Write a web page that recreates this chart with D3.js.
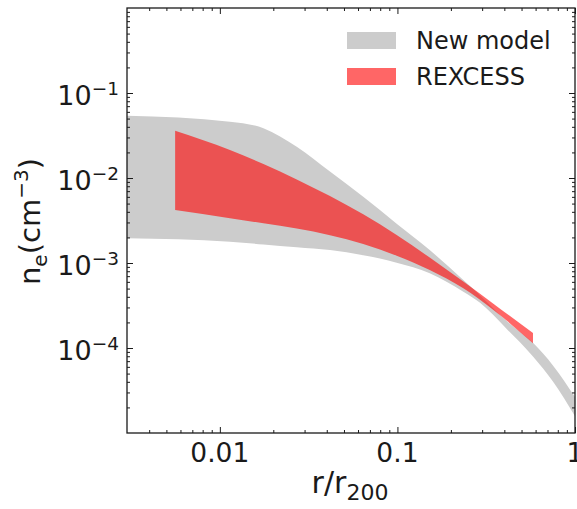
<!DOCTYPE html>
<html>
<head>
<meta charset="utf-8">
<script src="https://cdn.jsdelivr.net/npm/d3@7"></script>
<style>
  body { margin: 0; background: #fff; }
  svg { display: block; font-family: "DejaVu Sans", sans-serif; }
</style>
</head>
<body>
<svg width="577" height="509"></svg>
<script>
//new model band (grey)
const modelR = [0.003, 0.0114, 0.0176, 0.0271, 0.0417, 0.0642, 0.099, 0.152, 0.235, 0.292, 0.41, 0.58, 0.753, 1.0]
const modelUpper = [0.054, 0.046, 0.0385, 0.0233, 0.0119, 0.006, 0.0029, 0.00142, 0.00063, 0.000416, 0.00021, 0.000115, 0.000062, 0.0000265]
const modelLower = [0.00195, 0.00178, 0.00165, 0.00153, 0.00142, 0.00123, 0.00101, 0.00076, 0.00046, 0.00034, 0.00017, 0.0000796, 0.00004, 0.0000157]

//REXCESS band (red)
const rexR = [0.0056, 0.0114, 0.0176, 0.0271, 0.0417, 0.0642, 0.099, 0.152, 0.235, 0.35, 0.58]
const rexUpper = [0.036, 0.02135, 0.01462, 0.00963, 0.00614, 0.00374, 0.002135, 0.001158, 0.000604, 0.000327, 0.00015]
const rexLower = [0.0042, 0.00336, 0.00293, 0.00254, 0.00212, 0.00167, 0.00122, 0.000827, 0.000504, 0.000277, 0.000114]

//tick labels
const xTicks = [0.01, 0.1, 1]
const xTickLabels = ["0.01", "0.1", "1"]
const yTicks = [1e-1, 1e-2, 1e-3, 1e-4]
const yTickExps = ["\u22121", "\u22122", "\u22123", "\u22124"]

const legendNames = ["New model", "REXCESS"]

const svg = d3.select("svg")
  , pLeft = 127, pRight = 575, pTop = 8, pBottom = 433
  , ink = "#1a1a1a"

const x = d3.scaleLog().domain([0.003, 1]).range([pLeft, pRight])
const y = d3.scaleLog().domain([1e-5, 1]).range([pBottom, pTop])

//minor tick values for each decade
const minors = (lo, hi) => {
  let out = []
  for (let e = lo; e < hi; e++)
    for (let k = 2; k <= 9; k++) out.push(k * Math.pow(10, e))
  return out
}
const xMinor = minors(-3, 0).filter(v => v > 0.003 && v < 1)
const yMinor = minors(-5, 0)

//clip to plot area
svg.append("clipPath").attr("id", "plot")
  .append("rect").attr("x", pLeft).attr("y", pTop).attr("width", pRight - pLeft).attr("height", pBottom - pTop)

const band = (r, lo, hi) => d3.area()
  .x((d, i) => x(r[i]))
  .y0((d, i) => y(lo[i]))
  .y1((d, i) => y(hi[i]))
  .curve(d3.curveMonotoneX)(r)

const g = svg.append("g").attr("clip-path", "url(#plot)")
g.append("path").attr("d", band(modelR, modelLower, modelUpper)).attr("fill", "#cccccc")
g.append("path").attr("d", band(rexR, rexLower, rexUpper)).attr("fill", "red").attr("fill-opacity", 0.6)

//axes with inward ticks on all four sides
const addAxis = (axis, tx, ty, vals, size) => {
  const a = svg.append("g").attr("transform", `translate(${tx},${ty})`)
    .call(axis.tickValues(vals).tickSizeInner(-size).tickSizeOuter(0).tickFormat(""))
  a.select(".domain").remove()
  a.selectAll("line").attr("stroke", ink).attr("stroke-width", 1)
  return a
}
addAxis(d3.axisBottom(x), 0, pBottom, xTicks, 6)
addAxis(d3.axisBottom(x), 0, pBottom, xMinor, 3)
addAxis(d3.axisTop(x), 0, pTop, xTicks, 6)
addAxis(d3.axisTop(x), 0, pTop, xMinor, 3)
addAxis(d3.axisLeft(y), pLeft, 0, yTicks, 6)
addAxis(d3.axisLeft(y), pLeft, 0, yMinor, 3)
addAxis(d3.axisRight(y), pRight, 0, yTicks, 6)
addAxis(d3.axisRight(y), pRight, 0, yMinor, 3)

svg.append("rect").attr("x", pLeft).attr("y", pTop).attr("width", pRight - pLeft).attr("height", pBottom - pTop)
  .attr("fill", "none").attr("stroke", ink).attr("stroke-width", 1.3)

//x tick labels
svg.selectAll(".xl").data(xTicks).enter().append("text")
  .attr("x", d => x(d)).attr("y", 462)
  .attr("text-anchor", "middle").attr("font-size", 26.5).attr("fill", ink)
  .text((d, i) => xTickLabels[i])

//y tick labels 10^n
const yl = svg.selectAll(".yl").data(yTicks).enter().append("text")
  .attr("x", 119).attr("y", d => y(d) + 12)
  .attr("text-anchor", "end").attr("font-size", 27).attr("fill", ink)
yl.append("tspan").text("10")
yl.append("tspan").attr("font-size", 18.5).attr("dy", -10).text((d, i) => yTickExps[i])

//axis titles
const xt = svg.append("text").attr("x", 350).attr("y", 493)
  .attr("text-anchor", "middle").attr("font-size", 30).attr("fill", ink)
xt.append("tspan").text("r/r")
xt.append("tspan").attr("font-size", 22).attr("dy", 7).text("200")

const yt = svg.append("text").attr("transform", `translate(40,${(pTop + pBottom) / 2 + 1}) rotate(-90)`)
  .attr("text-anchor", "middle").attr("font-size", 29).attr("fill", ink)
yt.append("tspan").text("n")
yt.append("tspan").attr("font-size", 20).attr("dy", 7).text("e")
yt.append("tspan").attr("dy", -7).text("(cm")
yt.append("tspan").attr("font-size", 20).attr("dy", -12).text("\u22123")
yt.append("tspan").attr("dy", 12).text(")")

//legend
const lg = svg.append("g")
const legColors = [["#cccccc", 1], ["red", 0.6]]
legendNames.forEach((name, i) => {
  lg.append("rect").attr("x", 347).attr("y", 32 + i * 36).attr("width", 49).attr("height", 17)
    .attr("fill", legColors[i][0]).attr("fill-opacity", legColors[i][1])
  lg.append("text").attr("x", 416).attr("y", 49 + i * 35.5)
    .attr("font-size", 24).attr("fill", ink).text(name)
})
</script>
</body>
</html>
